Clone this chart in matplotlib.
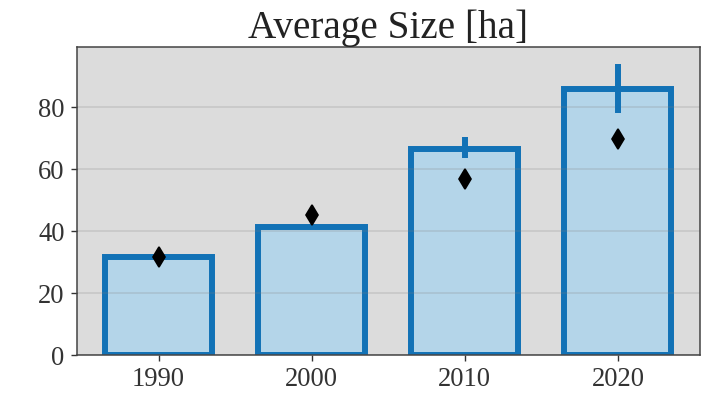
import matplotlib
matplotlib.use("Agg")
import matplotlib.pyplot as plt

# Average farm size per census year
years = ["1990", "2000", "2010", "2020"]
mean_size = [31.5, 41.2, 66.4, 85.9]
ci_low = [31.0, 40.7, 63.6, 78.0]
ci_high = [32.0, 41.7, 70.2, 93.8]
median_size = [31.5, 45.3, 56.8, 69.6]
y_ticks = [0, 20, 40, 60, 80]

plt.rcParams["font.family"] = ["Liberation Serif", "DejaVu Serif"]

fig = plt.figure(figsize=(7.04, 3.98), dpi=100)
ax = fig.add_axes([0.109, 0.108, 0.885, 0.774])
ax.set_facecolor("#dcdcdc")

x = list(range(len(years)))
ax.bar(x, mean_size, width=0.7, color="#b4d5e9", edgecolor="#1272b6",
       linewidth=4.3, zorder=1)
ax.vlines(x, ci_low, ci_high, colors="#1272b6", linewidth=4.3, zorder=2)
ax.plot(x, median_size, linestyle="none", marker="d", markersize=10.5,
        color="black", markeredgewidth=1.2, zorder=3)

ax.set_axisbelow("line")
ax.yaxis.grid(True, color="#808080", alpha=0.25, linewidth=1.1)
ax.set_ylim(0, 99.4)
ax.set_yticks(y_ticks)
ax.set_xticks(x)
ax.set_xticklabels(years)

ax.tick_params(axis="both", labelsize=19.2, colors="#333333", length=4.3,
               width=1.0, pad=4.5)
for spine in ax.spines.values():
    spine.set_color("#444444")
    spine.set_linewidth(1.1)

ax.set_title("Average Size [ha]", fontsize=28.3, color="#222222", pad=6)

fig.savefig("out.png", dpi=100)
